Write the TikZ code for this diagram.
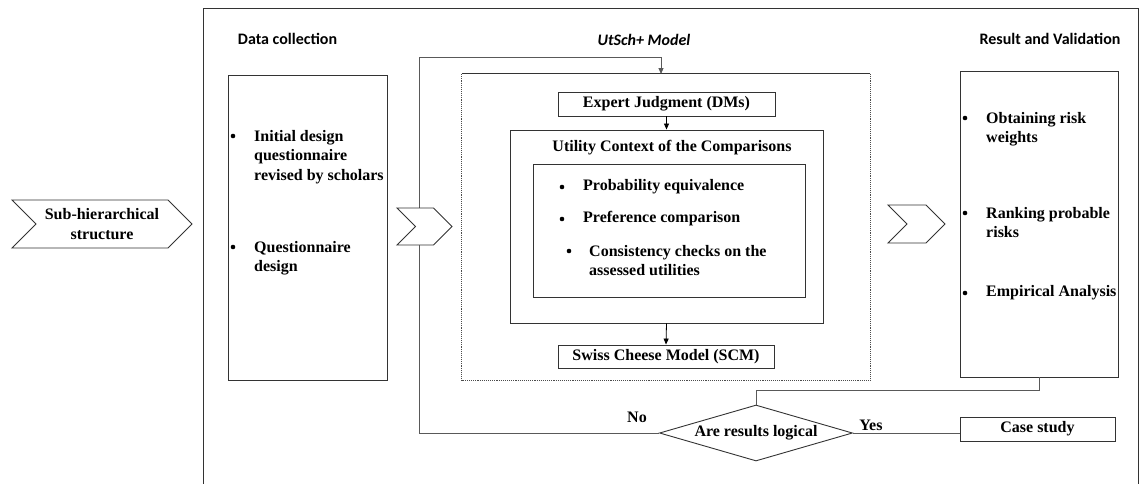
\documentclass[tikz,border=0pt]{standalone}
\usepackage{fontspec}
\setmainfont{Liberation Serif}
\newfontfamily\headfont{Carlito}
\usetikzlibrary{shapes.geometric,shapes.symbols,arrows.meta}

\begin{document}
\begin{tikzpicture}[x=1pt,y=-1pt,
  line/.style={draw=black!80, line width=0.9pt},
  box/.style={line, inner sep=0pt, fill=white},
  txt/.style={font=\fontsize{16}{19.5}\selectfont\bfseries, inner sep=0pt},
  item/.style={txt, align=left, anchor=north west},
  bul/.style={circle, fill=black, inner sep=0pt, minimum size=4.6pt},
  head/.style={font=\headfont\fontsize{16}{19.5}\selectfont\bfseries, inner sep=0pt},
  conn/.style={draw=black!65, line width=0.9pt},
  tip/.style={-{Triangle[length=6pt,width=5pt]}},
  arr/.style={tip, draw=black, line width=0.8pt},
  chev/.style={line, fill=white, shape=signal, signal to=east, signal from=west,
               inner sep=0pt, txt, align=center},
  dotline/.style={draw=black!70, line width=0.9pt, densely dotted}
]
\useasboundingbox (0,0) rectangle (1141,483);

% outer frame, open at the bottom of the page
\draw[line] (203,484) -- (203,8) -- (1138,8) -- (1138,484);

% column headings
\node[head] (hdata) at (287.5,39) {Data collection};
\node[head, font=\headfont\fontsize{16}{19.5}\selectfont\bfseries\itshape] (hmodel) at (644,40) {UtSch+ Model};
\node[head] (hres) at (1050,39) {Result and Validation};

% data collection column
\node[box, minimum width=159pt, minimum height=305pt] (data) at (307.5,227.5) {};
\node[bul] (db1) at (233,136) {};
\node[item] (dt1) at (254,129.7) {Initial design\\questionnaire\\revised by scholars};
\node[bul] (db2) at (233,247) {};
\node[item] (dt2) at (254,240.7) {Questionnaire\\design};

% model frame: solid top, dotted sides and bottom
\node[inner sep=0pt, minimum width=408pt, minimum height=306pt] (model) at (666,227) {};
\draw[line] (model.north west) -- (model.north east);
\draw[dotline] (model.north east) -- (model.south east) -- (model.south west) -- (model.north west);

\node[box, txt, minimum width=217pt, minimum height=24pt] (exp) at (666.5,104) {Expert Judgment (DMs)};
\node[box, minimum width=313pt, minimum height=193pt] (util) at (666.5,226.5) {};
\node[txt] (utitle) at (672,148) {Utility Context of the Comparisons};
\node[box, minimum width=272pt, minimum height=133pt] (list) at (669,230.5) {};
\node[bul] (lb1) at (562,187) {};
\node[txt, anchor=west] (lt1) at (583,187) {Probability equivalence};
\node[bul] (lb2) at (562,219) {};
\node[txt, anchor=west] (lt2) at (583,219) {Preference comparison};
\node[bul] (lb3) at (569,251) {};
\node[item] (lt3) at (589,244.7) {Consistency checks on the\\assessed utilities};
\node[box, txt, minimum width=216pt, minimum height=23pt] (swiss) at (666,356.5) {Swiss Cheese Model (SCM)};

\draw[arr] (exp.south) -- (util.north);
\draw[arr] (util.south) -- (swiss.north);

% result column
\node[box, minimum width=158pt, minimum height=306pt] (res) at (1039,224) {};
\node[bul] (rb1) at (965,118) {};
\node[item] (rt1) at (986,111.7) {Obtaining risk\\weights};
\node[bul] (rb2) at (965,213) {};
\node[item] (rt2) at (986,206.7) {Ranking probable\\risks};
\node[bul] (rb3) at (965,293) {};
\node[txt, anchor=west] (rt3) at (986,293) {Empirical Analysis};

% decision and case study
\node[line, shape=diamond, aspect=3.45, inner sep=0pt, minimum width=193pt, minimum height=56pt, txt] (dec) at (756,433) {Are results logical};
\node[box, txt, minimum width=155pt, minimum height=24pt] (case) at (1037.5,429) {Case study};
\node[txt] (no) at (637,417) {No};
\node[txt] (yes) at (871,425) {Yes};

\draw[conn] (dec.east) -- (dec.east -| case.west);
\draw[conn] (res.south) -- ++(0,13) -| (dec.north);

% feedback loop back into the model
\coordinate (lc) at (419,57);
\coordinate (mt) at (661,74);
\draw[conn, tip] (dec.west) -| (lc) -| (mt);

% process chevrons
\node[chev, minimum width=180pt, minimum height=48pt] (sub) at (102,224) {Sub-hierarchical\\structure};
\node[chev, minimum width=55pt, minimum height=37pt] (ch1) at (424.5,226.5) {};
\node[chev, minimum width=57pt, minimum height=38pt] (ch2) at (916.5,224) {};
\end{tikzpicture}
\end{document}
